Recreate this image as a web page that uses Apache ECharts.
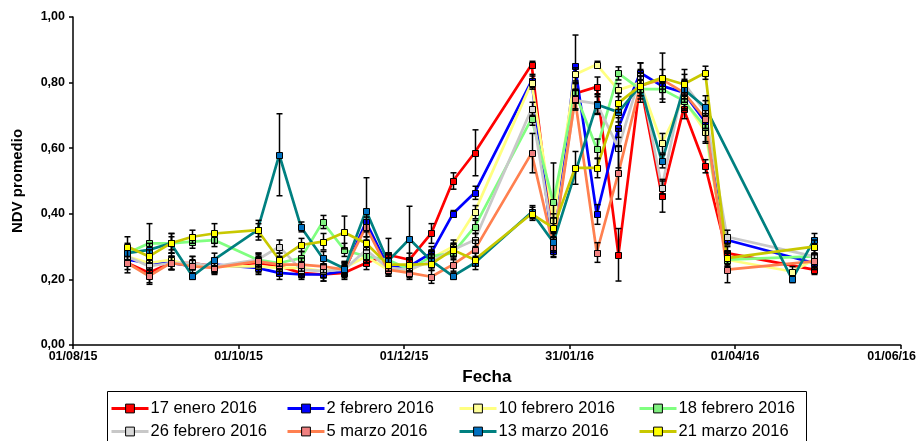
<!DOCTYPE html>
<html>
<head>
<meta charset="utf-8">
<script src="https://cdn.jsdelivr.net/npm/echarts@6/dist/echarts.min.js"></script>
<style>
html,body{margin:0;padding:0;background:#fff;}
#c{width:919px;height:441px;}
</style>
</head>
<body>
<div id="c"></div>
<script>
// Observation dates
const dates = ["2015-08-21","2015-08-29","2015-09-06","2015-09-14","2015-09-22","2015-10-08","2015-10-16",
  "2015-10-24","2015-11-01","2015-11-09","2015-11-17","2015-11-25","2015-12-03","2015-12-11","2015-12-19",
  "2015-12-27","2016-01-17","2016-01-25","2016-02-02","2016-02-10","2016-02-18","2016-02-26","2016-03-05",
  "2016-03-13","2016-03-21","2016-03-29","2016-04-22","2016-04-30"];

const seriesNames = ["17 enero 2016","2 febrero 2016","10 febrero 2016","18 febrero 2016",
  "26 febrero 2016","5 marzo 2016","13 marzo 2016","21 marzo 2016"];

// Mean NDV values
const enero17 = [0.25,0.22,0.25,0.25,0.24,0.25,0.24,0.22,0.215,0.22,0.25,0.275,0.26,0.34,0.50,0.586,0.855,0.31,0.767,0.787,0.275,0.80,0.455,0.72,0.545,0.28,null,0.23];
const febrero2 = [0.26,0.25,0.25,0.24,0.245,0.235,0.22,0.215,0.215,0.225,0.375,0.24,0.24,0.28,0.40,0.464,0.805,0.287,0.85,0.398,0.663,0.83,0.79,0.77,0.68,0.32,null,0.25];
const febrero10 = [0.27,0.25,0.26,0.24,0.24,0.24,0.235,0.235,0.225,0.235,0.27,0.23,0.225,0.265,0.30,0.405,0.80,0.38,0.825,0.855,0.777,0.80,0.615,0.75,0.65,0.26,0.224,0.26];
const febrero18 = [0.28,0.31,0.31,0.315,0.32,0.26,0.25,0.265,0.375,0.29,0.27,0.26,0.23,0.27,0.28,0.36,0.69,0.435,0.77,0.598,0.828,0.78,0.78,0.745,0.665,0.26,null,0.27];
const febrero26 = [0.27,0.24,0.25,0.25,0.24,0.26,0.30,0.23,0.225,0.23,0.29,0.235,0.23,0.255,0.29,0.32,0.72,0.32,0.746,0.736,0.60,0.82,0.48,0.80,0.71,0.33,null,0.27];
const marzo5 = [0.25,0.21,0.25,0.24,0.235,0.255,0.245,0.245,0.24,0.23,0.36,0.23,0.22,0.208,0.245,0.29,0.585,0.30,0.75,0.282,0.525,0.79,0.81,0.77,0.69,0.23,null,0.255];
const marzo13 = [0.28,0.29,0.31,0.21,0.26,0.35,0.58,0.36,0.265,0.233,0.41,0.255,0.323,0.257,0.21,0.25,0.405,0.313,null,0.733,0.71,0.79,0.56,0.78,0.725,null,0.20,0.32];
const marzo21 = [0.30,0.27,0.31,0.33,0.34,0.35,0.26,0.305,0.315,0.343,0.31,0.245,0.245,0.247,0.29,0.26,0.40,0.357,0.54,0.54,0.738,0.79,0.815,0.795,0.83,0.265,null,0.30];

// Error bar half-widths
const enero17Err = [0.03,0.03,0.02,0.02,0.02,0.02,0.02,0.02,0.02,0.02,0.02,0.05,0.02,0.03,0.025,0.07,0.01,0.03,0.03,0.03,0.08,0.03,0.05,0.03,0.02,0.02,null,0.015];
const febrero2Err = [0.02,0.02,0.02,0.01,0.02,0.02,0.02,0.01,0.02,0.02,0.03,0.02,0.02,0.02,0.01,0.02,0.02,0.02,0.095,0.03,0.03,0.03,0.02,0.03,0.02,0.015,null,0.02];
const febrero10Err = [0.02,0.02,0.02,0.01,0.02,0.02,0.02,0.02,0.02,0.02,0.02,0.02,0.02,0.02,0.02,0.02,0.02,0.02,0.02,0.01,0.02,0.03,0.03,0.03,0.03,0.02,0.015,0.02];
const febrero18Err = [0.03,0.06,0.03,0.02,0.02,0.02,0.02,0.02,0.02,0.02,0.02,0.02,0.02,0.02,0.02,0.02,0.02,0.12,0.03,0.03,0.02,0.03,0.03,0.03,0.05,0.02,null,0.02];
const febrero26Err = [0.03,0.02,0.02,0.02,0.02,0.02,0.02,0.02,0.02,0.02,0.03,0.02,0.02,0.02,0.02,0.02,0.02,0.03,0.03,0.03,0.06,0.04,0.02,0.04,0.05,0.02,null,0.02];
const marzo5Err = [0.02,0.025,0.02,0.02,0.02,0.02,0.02,0.02,0.02,0.02,0.03,0.02,0.02,0.02,0.02,0.03,0.06,0.03,0.03,0.03,0.08,0.03,0.03,0.03,0.03,0.04,null,0.02];
const marzo13Err = [0.02,0.02,0.02,0.01,0.02,0.02,0.125,0.015,0.02,0.02,0.10,0.02,0.10,0.02,0.01,0.02,0.02,0.03,null,0.03,0.03,0.05,0.02,0.03,0.02,null,0.01,0.02];
const marzo21Err = [0.03,0.02,0.03,0.02,0.03,0.03,0.02,0.02,0.025,0.05,0.02,0.02,0.02,0.02,0.02,0.02,0.02,0.03,0.05,0.03,0.03,0.03,0.075,0.03,0.02,0.02,null,0.02];

const yTicks = [0, 0.2, 0.4, 0.6, 0.8, 1.0];

const allVals = [enero17,febrero2,febrero10,febrero18,febrero26,marzo5,marzo13,marzo21];
const allErrs = [enero17Err,febrero2Err,febrero10Err,febrero18Err,febrero26Err,marzo5Err,marzo13Err,marzo21Err];
const lineColors = ["#FF0000","#0000FF","#FFFF80","#80FF80","#C8C8C8","#FF8050","#008080","#C8C800"];
const markColors = ["#FF0000","#0000FF","#FFFF99","#80F080","#D9D9D9","#F08080","#0070C0","#FFFF00"];

const base = Date.UTC(2015,7,1);
const DAY = 86400000;
function dayOf(s){ const p = s.split('-').map(Number); return (Date.UTC(p[0],p[1]-1,p[2]) - base)/DAY; }
function pad(n){ return (n<10?'0':'')+n; }
function fmtDay(d){ const t = new Date(base + d*DAY); return pad(t.getUTCDate())+'/'+pad(t.getUTCMonth()+1)+'/'+pad(t.getUTCFullYear()%100); }

const series = [];
allVals.forEach((vals,k)=>{
  series.push({
    type:'line', name: seriesNames[k],
    data: dates.map((s,i)=>[dayOf(s), vals[i]===null ? '-' : vals[i]]),
    connectNulls:true, showSymbol:false, symbol:'rect', symbolSize:7,
    lineStyle:{color: lineColors[k], width:2.7},
    itemStyle:{color: markColors[k], borderColor:'#000', borderWidth:1},
    z:2, animation:false, silent:true
  });
});
allVals.forEach((vals,k)=>{
  const errs = allErrs[k];
  const data = [];
  dates.forEach((s,i)=>{ if (vals[i]!==null) data.push([dayOf(s), vals[i], errs[i]===null?0:errs[i]]); });
  const fill = markColors[k];
  series.push({
    type:'custom', name: seriesNames[k]+' _err', data: data, z:3, animation:false, silent:true,
    clip:false,
    renderItem: function(params, api){
      const x = api.value(0), v = api.value(1), e = api.value(2);
      const p = api.coord([x, v]);
      const hi = api.coord([x, v+e]);
      const lo = api.coord([x, v-e]);
      const cx = Math.round(p[0]) + 0.5;
      const st = {stroke:'#000', lineWidth:1.5};
      const children = [];
      if (e > 0) {
        children.push({type:'line', shape:{x1:cx,y1:hi[1],x2:cx,y2:lo[1]}, style:st});
        children.push({type:'line', shape:{x1:cx-3,y1:hi[1],x2:cx+3,y2:hi[1]}, style:st});
        children.push({type:'line', shape:{x1:cx-3,y1:lo[1],x2:cx+3,y2:lo[1]}, style:st});
      }
      children.push({type:'rect', shape:{x:cx-3,y:Math.round(p[1])-2.5,width:6,height:6}, style:{fill:fill, stroke:'#000', lineWidth:1}});
      return {type:'group', children: children};
    }
  });
});

const legendLefts = [110, 286, 458, 638];
const legendTops = [400, 423];
const legends = seriesNames.map((n,k)=>({
  data:[n], left: legendLefts[k%4], top: legendTops[Math.floor(k/4)],
  padding:0, itemWidth:37, itemHeight:11, itemGap:0,
  textStyle:{fontFamily:'Liberation Sans, Arial', fontSize:16.5, color:'#000', padding:[0,0,0,-3]},
  itemStyle:{borderColor:'#000', borderWidth:1},
  lineStyle:{width:3},
  selectedMode:false
}));

const chart = echarts.init(document.getElementById('c'), null, {renderer:'canvas'});
chart.setOption({
  animation:false,
  backgroundColor:'#fff',
  grid:{left:73, right:17, top:17, bottom:96},
  xAxis:{
    type:'value', min:0, max:305, interval:61,
    name:'Fecha', nameLocation:'middle', nameGap:24,
    nameTextStyle:{fontFamily:'Liberation Sans, Arial', fontWeight:'bold', fontSize:17, color:'#000'},
    axisLine:{show:true, lineStyle:{color:'#000', width:1.5}},
    axisTick:{show:true, length:4, lineStyle:{color:'#000', width:1.5}},
    splitLine:{show:false},
    axisLabel:{
      margin:5, fontFamily:'Liberation Sans, Arial', fontWeight:'bold', fontSize:12.5, color:'#000',
      showMinLabel:true, showMaxLabel:true,
      formatter:function(v){ const s = fmtDay(v); return v>=305 ? '{e|'+s+'}' : s; },
      rich:{e:{fontFamily:'Liberation Sans, Arial', fontWeight:'bold', fontSize:12.5, color:'#000', padding:[0,18,0,0]}}
    }
  },
  yAxis:{
    type:'value', min:yTicks[0], max:yTicks[yTicks.length-1], interval:0.2, offset:5,
    name:'NDV promedio', nameLocation:'middle', nameGap:43, nameRotate:90,
    nameTextStyle:{fontFamily:'Liberation Sans, Arial', fontWeight:'bold', fontSize:15, color:'#000'},
    axisLine:{show:true, lineStyle:{color:'#000', width:1.5}},
    axisTick:{show:true, length:4, lineStyle:{color:'#000', width:1.5}},
    splitLine:{show:false},
    axisLabel:{margin:3, fontFamily:'Liberation Sans, Arial', fontWeight:'bold', fontSize:12.5, color:'#000',
      formatter:function(v){ return v.toFixed(2).replace('.', ','); }}
  },
  legend: legends,
  graphic:[{type:'rect', shape:{x:107.5, y:391.5, width:699, height:60}, style:{fill:'none', stroke:'#000', lineWidth:1}, z:-1}],
  series: series
});
</script>
</body>
</html>
